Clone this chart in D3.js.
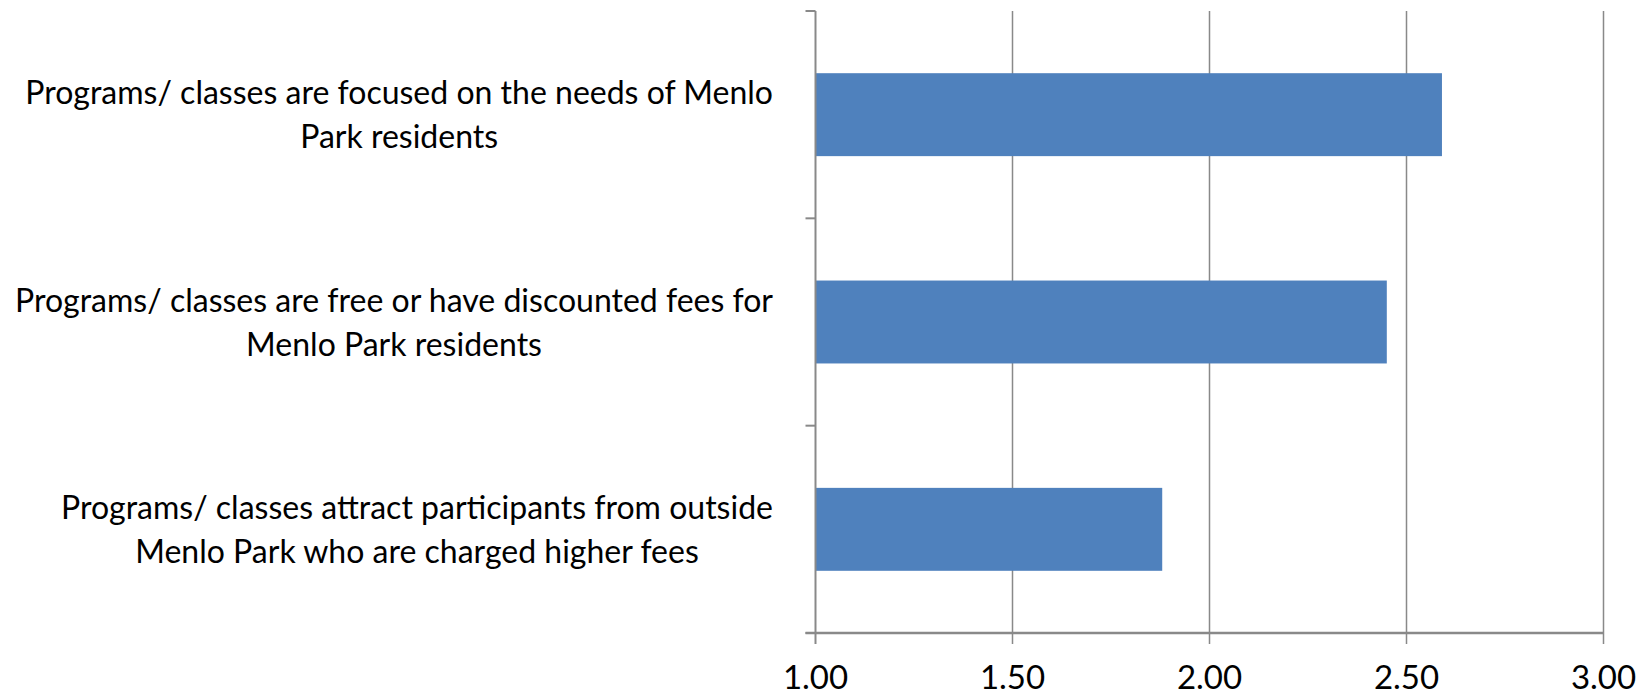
<!DOCTYPE html>
<html>
<head>
<meta charset="utf-8">
<script src="https://cdn.jsdelivr.net/npm/d3@7"></script>
<style>
  html, body { margin: 0; padding: 0; background: #fff; }
  svg { display: block; }
  text { font-family: Lato, "Open Sans", sans-serif; fill: #000; }
</style>
</head>
<body>
<svg id="chart" width="1648" height="695"></svg>
<script>
const categories = [
  ["Programs/ classes are focused on the needs of Menlo", "Park residents"],
  ["Programs/ classes are free or have discounted fees for", "Menlo Park residents"],
  ["Programs/ classes attract participants from outside", "Menlo Park who are charged higher fees"]
];
const values = [2.59, 2.45, 1.88];
const xTicks = [1.0, 1.5, 2.0, 2.5, 3.0];

(function () {
const svg = d3.select("#chart");
const pLeft = 815.5, pRight = 1603.5, pTop = 11, pBottom = 633;
const gridColor = "#898989";
const fontSize = 33;
const squeeze = 0.97;

const x = d3.scaleLinear().domain([1, 3]).range([pLeft, pRight]);
const y = d3.scaleBand().domain(d3.range(categories.length)).range([pTop, pBottom]).paddingInner(0.6).paddingOuter(0.3);
const yEdges = d3.range(categories.length + 1).map(i => pTop + i * (pBottom - pTop) / categories.length);

// gridlines
svg.append("g").selectAll("line").data(xTicks.slice(1)).join("line")
  .attr("x1", d => x(d)).attr("x2", d => x(d))
  .attr("y1", pTop).attr("y2", pBottom + 11)
  .attr("stroke", gridColor).attr("stroke-width", 1.5);

// bars
svg.append("g").selectAll("rect").data(values).join("rect")
  .attr("x", x(1))
  .attr("y", (d, i) => y(i))
  .attr("width", d => x(d) - x(1))
  .attr("height", y.bandwidth())
  .attr("fill", "#4F81BD");

// y axis line and ticks
svg.append("line").attr("x1", pLeft).attr("x2", pLeft).attr("y1", pTop).attr("y2", pBottom + 11)
  .attr("stroke", gridColor).attr("stroke-width", 2);
svg.append("g").selectAll("line").data(yEdges).join("line")
  .attr("x1", pLeft - 10).attr("x2", pLeft).attr("y1", d => d).attr("y2", d => d)
  .attr("stroke", gridColor).attr("stroke-width", 2);

// x axis line
svg.append("line").attr("x1", pLeft - 10).attr("x2", pRight).attr("y1", pBottom).attr("y2", pBottom)
  .attr("stroke", gridColor).attr("stroke-width", 2.5);

// x tick labels
svg.append("g").selectAll("text").data(xTicks).join("text")
  .attr("x", d => x(d)).attr("y", 689)
  .attr("text-anchor", "middle")
  .attr("font-size", fontSize)
  .text(d => d3.format(".2f")(d));

// y category labels
const rightEdge = 773;
const lineH = 44;
categories.forEach((lines, i) => {
  const cy = y(i) + y.bandwidth() / 2;
  const g = svg.append("g");
  const texts = lines.map((t, j) => g.append("text")
    .attr("font-size", fontSize)
    .attr("text-anchor", "middle")
    .attr("y", cy + (j - (lines.length - 1) / 2) * lineH)
    .attr("dy", "0.35em")
    .text(t));
  const widths = texts.map(t => t.node().getComputedTextLength());
  const maxW = d3.max(widths) * squeeze;
  texts.forEach((t, j) => t.attr("x", rightEdge - maxW / 2)
    .attr("textLength", widths[j] * squeeze)
    .attr("lengthAdjust", "spacingAndGlyphs"));
});
})();
</script>
</body>
</html>
